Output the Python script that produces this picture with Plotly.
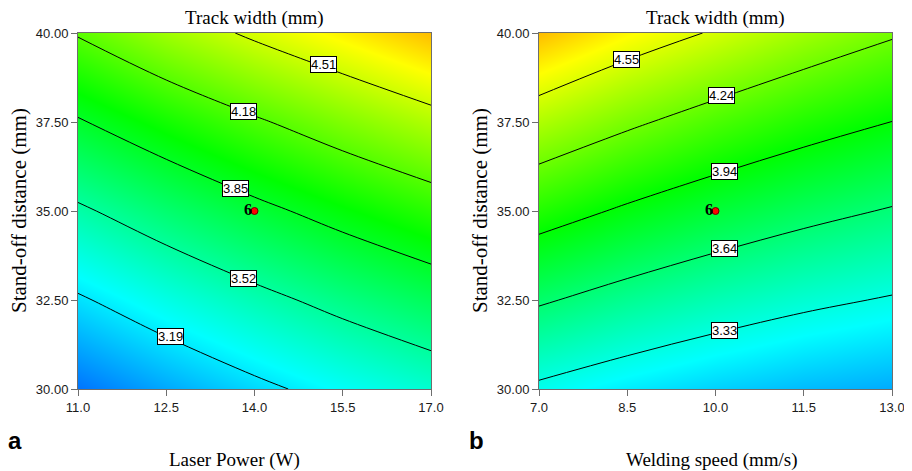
import plotly.graph_objects as go

# ---------------- data ----------------
# Panel a: Laser power (W) vs stand-off distance (mm), track width (mm)
power = [11.0, 12.5, 14.0, 15.5, 17.0]
standoff = [30.0, 32.5, 35.0, 37.5, 40.0]
width_a = [
    [2.867, 3.010, 3.143, 3.266, 3.378],   # y = 30.0
    [3.166, 3.317, 3.457, 3.588, 3.708],   # y = 32.5
    [3.487, 3.646, 3.794, 3.932, 4.060],   # y = 35.0
    [3.831, 3.997, 4.153, 4.299, 4.435],   # y = 37.5
    [4.197, 4.385, 4.545, 4.689, 4.832],   # y = 40.0
]
levels_a = [3.19, 3.52, 3.85, 4.18, 4.51]
label_pos_a = [(12.58, 31.47), (13.82, 33.11), (13.68, 35.64), (13.82, 37.79), (15.18, 39.12)]

# Panel b: Welding speed (mm/s) vs stand-off distance (mm), track width (mm)
speed = [7.0, 8.5, 10.0, 11.5, 13.0]
width_b = [
    [3.294, 3.200, 3.123, 3.062, 3.019],   # y = 30.0
    [3.660, 3.548, 3.453, 3.374, 3.313],   # y = 32.5
    [4.039, 3.909, 3.795, 3.699, 3.619],   # y = 35.0
    [4.430, 4.282, 4.150, 4.035, 3.938],   # y = 37.5
    [4.834, 4.667, 4.530, 4.390, 4.269],   # y = 40.0
]
levels_b = [3.33, 3.64, 3.94, 4.24, 4.55]
label_pos_b = [(10.15, 31.64), (10.15, 33.95), (10.15, 36.10), (10.105, 38.24), (8.49, 39.26)]

design_a = (14.0, 35.0)
design_b = (10.0, 35.0)
design_count = "6"

x_ticks_a = [11.0, 12.5, 14.0, 15.5, 17.0]
x_ticks_b = [7.0, 8.5, 10.0, 11.5, 13.0]
y_ticks = [30.0, 32.5, 35.0, 37.5, 40.0]

# ---------------- style ----------------
W, H = 912, 471
OFF = 8  # page body margin
ZMIN, ZMAX = 2.55, 5.35
cscale = [
    [0.0, "rgb(0,0,255)"],
    [0.25, "rgb(0,255,255)"],
    [0.5, "rgb(0,255,0)"],
    [0.75, "rgb(255,255,0)"],
    [1.0, "rgb(255,0,0)"],
]
SERIF = "Liberation Serif"
SANS = "Liberation Sans"

def fx(v):
    return (v - OFF) / W

def fy(v):
    return 1 - (v - OFF) / H

dom_a = [fx(78), fx(431)]
dom_b = [fx(539), fx(892)]
dom_y = [fy(389), fy(33)]

fig = go.Figure()

def add_panel(xv, z, levels, xa, ya):
    fig.add_trace(go.Heatmap(
        x=xv, y=standoff, z=z, zsmooth="best", colorscale=cscale,
        zmin=ZMIN, zmax=ZMAX, showscale=False, hoverinfo="skip",
        xaxis=xa, yaxis=ya))
    step = (levels[-1] - levels[0]) / (len(levels) - 1)
    fig.add_trace(go.Contour(
        x=xv, y=standoff, z=z, showscale=False,
        contours=dict(start=levels[0], end=levels[-1] + 1e-6, size=step,
                      coloring="none"),
        line=dict(color="black", width=1, smoothing=1.0),
        hoverinfo="skip", xaxis=xa, yaxis=ya))

add_panel(power, width_a, levels_a, "x", "y")
add_panel(speed, width_b, levels_b, "x2", "y2")

for (pt, xa, ya) in [(design_a, "x", "y"), (design_b, "x2", "y2")]:
    fig.add_trace(go.Scatter(
        x=[pt[0]], y=[pt[1]], mode="markers",
        marker=dict(color="red", size=7, line=dict(color="#600", width=1)),
        hoverinfo="skip", xaxis=xa, yaxis=ya))

axis_common = dict(
    showline=True, linecolor="#6e6e6e", linewidth=1, mirror=True,
    ticks="outside", ticklen=6, tickcolor="#6e6e6e", tickwidth=1,
    showgrid=False, zeroline=False, automargin=False,
    tickfont=dict(family=SANS, size=13, color="#1a1a1a"),
)

fig.update_layout(
    width=W, height=H, margin=dict(l=0, r=0, t=0, b=0, autoexpand=False),
    paper_bgcolor="white", plot_bgcolor="white", showlegend=False,
    xaxis=dict(domain=dom_a, range=[11, 17], tickvals=x_ticks_a,
               tickformat=".1f", anchor="y", **axis_common),
    yaxis=dict(domain=dom_y, range=[30, 40], tickvals=y_ticks,
               tickformat=".2f", anchor="x", **axis_common),
    xaxis2=dict(domain=dom_b, range=[7, 13], tickvals=x_ticks_b,
                tickformat=".1f", anchor="y2", **axis_common),
    yaxis2=dict(domain=dom_y, range=[30, 40], tickvals=y_ticks,
                tickformat=".2f", anchor="x2", **axis_common),
)

ann = []
# contour labels
for levels, pos, xr, yr in [(levels_a, label_pos_a, "x", "y"), (levels_b, label_pos_b, "x2", "y2")]:
    for lv, (lx, ly) in zip(levels, pos):
        ann.append(dict(x=lx, y=ly, xref=xr, yref=yr, text=f"{lv:.2f}",
                        showarrow=False, bgcolor="white", bordercolor="black",
                        borderwidth=1, borderpad=0,
                        font=dict(family=SANS, size=13, color="black")))
# design point counts
for pt, xr, yr in [(design_a, "x", "y"), (design_b, "x2", "y2")]:
    ann.append(dict(x=pt[0], y=pt[1], xref=xr, yref=yr, text=f"<b>{design_count}</b>",
                    showarrow=False, xanchor="right", xshift=-1, yshift=2,
                    font=dict(family=SERIF, size=16, color="black")))

def paper_text(x, y, text, size, family=SERIF, angle=0):
    ann.append(dict(x=fx(x), y=fy(y), xref="paper", yref="paper",
                    xanchor="center", yanchor="middle", text=text,
                    textangle=angle, showarrow=False,
                    font=dict(family=family, size=size, color="black")))

cx_a = (78 + 431) / 2
cx_b = (539 + 892) / 2
cy = (33 + 389) / 2
paper_text(cx_a, 18, "Track width (mm)", 19)
paper_text(cx_b, 18, "Track width (mm)", 19)
paper_text(19, cy, "Stand-off distance (mm)", 21, angle=-90)
paper_text(480, cy, "Stand-off distance (mm)", 21, angle=-90)
paper_text(cx_a - 20, 460, "Laser Power (W)", 19)
paper_text(cx_b - 4, 460, "Welding speed (mm/s)", 19)
paper_text(15, 440, "<b>a</b>", 24, family=SANS)
paper_text(477, 440, "<b>b</b>", 24, family=SANS)

fig.update_layout(annotations=ann)
fig.write_html("out.html")
